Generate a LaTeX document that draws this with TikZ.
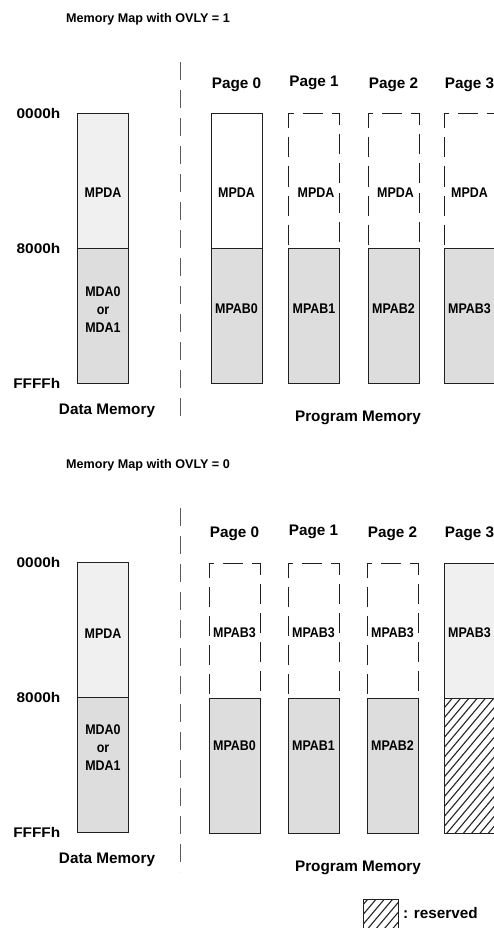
\documentclass[tikz,border=0pt]{standalone}
\usepackage{fontspec}
\setmainfont{Liberation Sans}
\newfontfamily\narrowfont{Liberation Sans}[FakeStretch=0.89]
\newfontfamily\widefont{Liberation Sans}[FakeStretch=1.1]
\usetikzlibrary{positioning}
\definecolor{HiGray}{HTML}{F0F0F0}
\definecolor{LoGray}{HTML}{DDDDDD}
\definecolor{SepGray}{HTML}{5A5A5A}
\definecolor{EdgeGray}{HTML}{202020}

\begin{document}
\begin{tikzpicture}[
    x=1pt, y=-1pt,
    mem/.style={rectangle, draw=EdgeGray, line width=1pt, minimum width=51pt, minimum height=135pt, inner sep=0pt, outer sep=0pt},
    hi/.style={mem, fill=HiGray},
    lo/.style={mem, fill=LoGray},
    plainbox/.style={mem, fill=white},
    ghostbox/.style={mem, dash pattern=on 20pt off 9pt},
    rsv/.style={mem, fill=white},
    hatch/.style={line width=1.1pt, draw=black!85},
    lbl/.style={font=\narrowfont\bfseries\fontsize{14}{18}\selectfont, align=center, inner sep=0pt},
    pglbl/.style={font=\bfseries\fontsize{15.3}{18}\selectfont, inner sep=0pt},
    addr/.style={font=\widefont\bfseries\fontsize{14}{17}\selectfont, inner sep=0pt},
    hdr/.style={font=\bfseries\fontsize{12.6}{15}\selectfont, inner sep=0pt},
    sepline/.style={draw=SepGray, line width=1pt, dash pattern=on 18pt off 10pt}
  ]
  \useasboundingbox (0,0) rectangle (493,928);

  % OVLY = 1
  \node[hdr] (title1) at (148,19) {Memory Map with OVLY = 1};
  \coordinate (s1top) at (180,62);
  \coordinate (s1bot) at (180,422);
  \draw[sepline] (s1top) -- (s1bot);

  \node[hi, label={[lbl, yshift=-12pt]center:MPDA}] (d1hi) at (103,181) {};
  \node[lo, below=0pt of d1hi, label={[lbl, yshift=6pt]center:{MDA0\\or\\MDA1}}] (d1lo) {};
  \node[addr, left=17pt of d1hi.north west] (a10) {0000h};
  \node[addr, left=17pt of d1hi.south west] (a18) {8000h};
  \node[addr, left=17pt of d1lo.south west] (a1f) {FFFFh};
  \node[pglbl, below=20pt of d1lo, xshift=4pt] (dm1) {Data Memory};

  \node[plainbox, label={[lbl, yshift=-12pt]center:MPDA}] (p0hi) at (236.5,181) {};
  \node[ghostbox, label={[lbl, yshift=-12pt, xshift=2pt]center:MPDA}] (p1hi) at (314,181) {};
  \node[ghostbox, label={[lbl, yshift=-12pt, xshift=2pt]center:MPDA}] (p2hi) at (393.5,181) {};
  \node[ghostbox, label={[lbl, yshift=-12pt]center:MPDA}] (p3hi) at (469.5,181) {};
  \node[lo, below=0pt of p0hi, label={[lbl, yshift=7pt]center:MPAB0}] (p0lo) {};
  \node[lo, below=0pt of p1hi, label={[lbl, yshift=7pt]center:MPAB1}] (p1lo) {};
  \node[lo, below=0pt of p2hi, label={[lbl, yshift=7pt]center:MPAB2}] (p2lo) {};
  \node[lo, below=0pt of p3hi, label={[lbl, yshift=7pt]center:MPAB3}] (p3lo) {};
  \node[pglbl, above=22pt of p0hi] (t10) {Page 0};
  \node[pglbl, above=24pt of p1hi] (t11) {Page 1};
  \node[pglbl, above=22pt of p2hi] (t12) {Page 2};
  \node[pglbl, above=22pt of p3hi] (t13) {Page 3};
  \node[pglbl] (pm1) at (358,418) {Program Memory};

  % OVLY = 0
  \node[hdr] (title0) at (148,465) {Memory Map with OVLY = 0};
  \coordinate (s0top) at (180,508);
  \coordinate (s0bot) at (180,872);
  \draw[sepline] (s0top) -- (s0bot);

  \node[hi, label={[lbl, yshift=-4pt]center:MPDA}] (d0hi) at (103,630) {};
  \node[lo, below=0pt of d0hi, label={[lbl, yshift=17pt]center:{MDA0\\or\\MDA1}}] (d0lo) {};
  \node[addr, left=17pt of d0hi.north west] (a00) {0000h};
  \node[addr, left=17pt of d0hi.south west] (a08) {8000h};
  \node[addr, left=17pt of d0lo.south west] (a0f) {FFFFh};
  \node[pglbl, below=20pt of d0lo, xshift=4pt] (dm0) {Data Memory};

  \node[ghostbox, label={[lbl, yshift=-2pt]center:MPAB3}] (q0hi) at (234.5,630.5) {};
  \node[ghostbox, label={[lbl, yshift=-2pt]center:MPAB3}] (q1hi) at (313.5,630.5) {};
  \node[ghostbox, label={[lbl, yshift=-2pt]center:MPAB3}] (q2hi) at (392.5,630.5) {};
  \node[hi, label={[lbl, yshift=-2pt]center:MPAB3}] (q3hi) at (469.5,630.5) {};
  \node[lo, below=0pt of q0hi, label={[lbl, yshift=20pt]center:MPAB0}] (q0lo) {};
  \node[lo, below=0pt of q1hi, label={[lbl, yshift=20pt]center:MPAB1}] (q1lo) {};
  \node[lo, below=0pt of q2hi, label={[lbl, yshift=20pt]center:MPAB2}] (q2lo) {};
  \node[rsv, below=0pt of q3hi] (q3lo) {};
  \begin{scope}
    \clip (q3lo.north west) rectangle (q3lo.south east);
    \foreach \k in {0,...,25}
      \draw[hatch] (300+8.3*\k,840) -- ++(126,-150);
  \end{scope}
  \node[pglbl, above=22pt of q0hi] (t00) {Page 0};
  \node[pglbl, above=24pt of q1hi] (t01) {Page 1};
  \node[pglbl, above=22pt of q2hi] (t02) {Page 2};
  \node[pglbl, above=22pt of q3hi] (t03) {Page 3};
  \node[pglbl] (pm0) at (358,868) {Program Memory};

  % legend
  \node[rsv, minimum width=35pt, minimum height=35pt] (key) at (380.5,916.5) {};
  \begin{scope}
    \clip (key.north west) rectangle (key.south east);
    \foreach \k in {0,...,10}
      \draw[hatch] (325+8.3*\k,940) -- ++(38,-45);
  \end{scope}
  \node[pglbl, right=5pt of key, yshift=3pt] (keytxt) {: reserved};
\end{tikzpicture}
\end{document}
